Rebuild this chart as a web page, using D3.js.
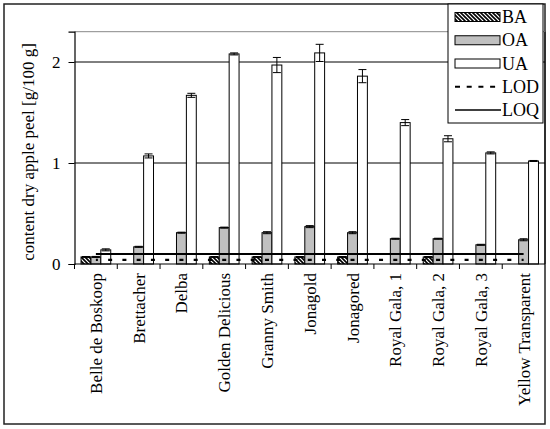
<!DOCTYPE html>
<html><head><meta charset="utf-8">
<script src="https://cdn.jsdelivr.net/npm/d3@7"></script>
<style>
html,body{margin:0;padding:0;background:#fff;}
svg text{font-family:"Liberation Serif","Times New Roman",serif;fill:#000;}
</style></head>
<body><svg id="c" width="550" height="429"></svg>
<script>
const categories = ["Belle de Boskoop","Brettacher","Delba","Golden Delicious","Granny Smith","Jonagold","Jonagored","Royal Gala, 1","Royal Gala, 2","Royal Gala, 3","Yellow Transparent"];
const BA = [0.07, null, null, 0.07, 0.07, 0.07, 0.07, null, 0.07, null, null];
const BAerr = [0.004, null, null, 0.004, 0.004, 0.004, 0.004, null, 0.004, null, null];
const OA = [0.07, 0.17, 0.31, 0.36, 0.31, 0.37, 0.31, 0.25, 0.25, 0.19, 0.24];
const OAerr = [0.005, 0.005, 0.005, 0.005, 0.01, 0.01, 0.01, 0.005, 0.005, 0.005, 0.01];
const UA = [0.14, 1.07, 1.67, 2.08, 1.97, 2.09, 1.86, 1.40, 1.24, 1.10, 1.02];
const UAerr = [0.01, 0.02, 0.02, 0.01, 0.075, 0.085, 0.065, 0.03, 0.03, 0.01, 0.005];
const LOD = [0.04, 0.04, 0.04, 0.04, 0.04, 0.04, 0.04, 0.04, 0.04, 0.04, 0.04];
const LOQ = [0.1, 0.1, 0.1, 0.1, 0.1, 0.1, 0.1, 0.1, 0.1, 0.1, 0.1];
const yTicks = [0, 1, 2];
const seriesNames = ["BA", "OA", "UA"];
const lineNames = ["LOD", "LOQ"];

const svg = d3.select("#c");
const L = 74.5, R = 545, T = 31.7, B = 264;
const x = d3.scaleBand().domain(categories).range([L, R]).padding(0);
const y = d3.scaleLinear().domain([0, 2.3]).range([B, T]);
const bw = x.bandwidth();
const barW = bw * 0.2315;
const off = (bw - 3 * barW) / 2;

const defs = svg.append("defs");
const pat = defs.append("pattern").attr("id", "hatch").attr("patternUnits", "userSpaceOnUse")
  .attr("width", 4).attr("height", 4);
pat.append("rect").attr("width", 4).attr("height", 4).attr("fill", "#fff");
pat.append("path").attr("d", "M-1,-1 L5,5 M3,-1 L5,1 M-1,3 L1,5").attr("stroke", "#000").attr("stroke-width", 1.6);

svg.append("rect").attr("width", 550).attr("height", 429).attr("fill", "#fff");
// outer frame
svg.append("rect").attr("x", 4).attr("y", 4).attr("width", 541).attr("height", 420)
  .attr("fill", "none").attr("stroke", "#222").attr("stroke-width", 1.5);

// plot area border (top grey)
svg.append("line").attr("x1", L).attr("x2", R).attr("y1", T).attr("y2", T).attr("stroke", "#888").attr("stroke-width", 1);
svg.append("line").attr("x1", R).attr("x2", R).attr("y1", T).attr("y2", B).attr("stroke", "#222").attr("stroke-width", 1.5);

// gridlines
svg.append("g").selectAll("line").data(yTicks.filter(d => d > 0)).join("line")
  .attr("x1", L).attr("x2", R).attr("y1", d => y(d)).attr("y2", d => y(d))
  .attr("stroke", "#000").attr("stroke-width", 1);

const series = [
  {name: "BA", vals: BA, err: BAerr, fill: "url(#hatch)"},
  {name: "OA", vals: OA, err: OAerr, fill: "#c0c0c0"},
  {name: "UA", vals: UA, err: UAerr, fill: "#fff"}
];

series.forEach((s, si) => {
  const g = svg.append("g");
  const data = categories.map((c, i) => ({c, v: s.vals[i], e: s.err[i]})).filter(d => d.v != null);
  g.selectAll("rect").data(data).join("rect")
    .attr("x", d => x(d.c) + off + si * barW)
    .attr("y", d => y(d.v))
    .attr("width", barW)
    .attr("height", d => y(0) - y(d.v))
    .attr("fill", s.fill).attr("stroke", "#000").attr("stroke-width", 1);
  const eg = g.selectAll("g.err").data(data).join("g").attr("class", "err");
  const cx = d => x(d.c) + off + si * barW + barW / 2;
  eg.append("line").attr("x1", cx).attr("x2", cx)
    .attr("y1", d => y(d.v - d.e)).attr("y2", d => y(d.v + d.e)).attr("stroke", "#000");
  [1, -1].forEach(sg => {
    eg.append("line").attr("x1", d => cx(d) - 4).attr("x2", d => cx(d) + 4)
      .attr("y1", d => y(d.v + sg * d.e)).attr("y2", d => y(d.v + sg * d.e)).attr("stroke", "#000");
  });
});

// LOD / LOQ lines
const lineGen = d3.line().x(d => x(d.c) + bw / 2).y(d => y(d.v));
svg.append("path").datum(categories.map((c, i) => ({c, v: LOQ[i]})))
  .attr("d", lineGen).attr("fill", "none").attr("stroke", "#000").attr("stroke-width", 2);
svg.append("path").datum(categories.map((c, i) => ({c, v: LOD[i]})))
  .attr("d", lineGen).attr("fill", "none").attr("stroke", "#000").attr("stroke-width", 2.2)
  .attr("stroke-dasharray", `4,${bw / 3 - 4}`).attr("stroke-dashoffset", 2);

// Y axis
const yAxis = svg.append("g").attr("transform", `translate(${L},0)`)
  .call(d3.axisLeft(y).tickValues(yTicks).tickSize(6).tickPadding(8).tickFormat(d3.format("d")));
yAxis.select(".domain").attr("stroke", "#000").attr("stroke-width", 1.2);
yAxis.selectAll(".tick line").attr("stroke", "#000");
yAxis.selectAll("text").style("font-size", "17px").attr("font-family", null);

// X axis
svg.append("line").attr("x1", L).attr("x2", R).attr("y1", B).attr("y2", B).attr("stroke", "#000").attr("stroke-width", 1.2);
svg.append("g").selectAll("line").data(categories.slice(1)).join("line")
  .attr("x1", d => x(d)).attr("x2", d => x(d)).attr("y1", B).attr("y2", B + 5).attr("stroke", "#000");
svg.append("line").attr("x1", L).attr("x2", L).attr("y1", B).attr("y2", B + 5).attr("stroke", "#000");
svg.append("g").selectAll("text").data(categories).join("text")
  .attr("transform", d => `translate(${x(d) + bw / 2 + 6},${B + 9}) rotate(-90)`)
  .attr("text-anchor", "end").style("font-size", "17px").text(d => d);

// Y label
svg.append("text").attr("transform", "translate(34,152) rotate(-90)")
  .attr("text-anchor", "middle").style("font-size", "17px").text("content dry apple peel [g/100 g]");

// Legend
const lg = svg.append("g");
lg.append("rect").attr("x", 448).attr("y", 4).attr("width", 95).attr("height", 119)
  .attr("fill", "#fff").attr("stroke", "#000").attr("stroke-width", 1);
const items = [
  {name: seriesNames[0], type: "rect", fill: "url(#hatch)"},
  {name: seriesNames[1], type: "rect", fill: "#c0c0c0"},
  {name: seriesNames[2], type: "rect", fill: "#fff"},
  {name: lineNames[0], type: "dash"},
  {name: lineNames[1], type: "line"}
];
items.forEach((it, i) => {
  const cy = 17 + i * 23.25;
  if (it.type === "rect") {
    lg.append("rect").attr("x", 455).attr("y", cy - 4.5).attr("width", 45).attr("height", 9)
      .attr("fill", it.fill).attr("stroke", "#000").attr("stroke-width", 1);
  } else {
    lg.append("line").attr("x1", 455).attr("x2", 501).attr("y1", cy).attr("y2", cy)
      .attr("stroke", "#000").attr("stroke-width", it.type === "dash" ? 2 : 1.5)
      .attr("stroke-dasharray", it.type === "dash" ? "5,6.7" : null);
  }
  lg.append("text").attr("x", 502).attr("y", cy + 6).style("font-size", "18px").text(it.name);
});
</script></body></html>
